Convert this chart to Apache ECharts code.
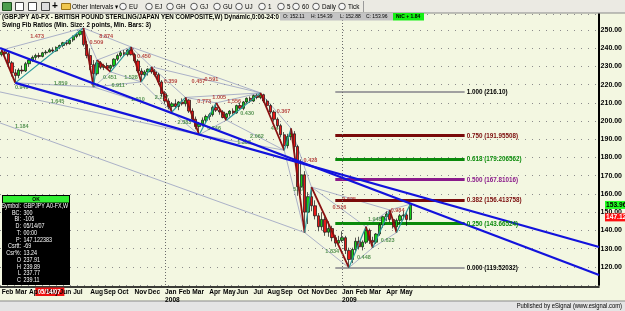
<!DOCTYPE html>
<html>
<head>
<meta charset="utf-8">
<script src="https://cdn.jsdelivr.net/npm/echarts@6/dist/echarts.min.js"></script>
<style>
html, body { margin: 0; padding: 0; background: #f3f7e1; }
#main { width: 625px; height: 311px; }
</style>
</head>
<body>
<div id="main"></div>
<script>
// weekly GBPJPY bars, bar 0 = week of 2007-02-05 : [open, high, low, close]
const ohlc = [
  [236.5, 239.0, 235.5, 238.0], [238.0, 239.5, 236.0, 237.0], [237.0, 238.0, 230.5, 232.0], [232.0, 233.0, 224.5, 226.5],
  [226.5, 228.5, 221.0, 225.0], [225.0, 229.0, 223.5, 228.0], [228.0, 230.5, 226.0, 227.5], [227.5, 232.5, 227.0, 231.5],
  [231.5, 234.0, 230.0, 233.5], [233.5, 236.0, 232.5, 235.0], [235.0, 237.0, 233.5, 236.0], [236.0, 237.5, 234.5, 235.5],
  [235.5, 238.0, 235.0, 237.5], [237.5, 239.0, 236.5, 237.9], [237.91, 239.89, 237.77, 239.11], [239.1, 240.5, 237.5, 238.5],
  [238.5, 241.0, 238.0, 240.5], [240.5, 242.0, 239.5, 241.5], [241.5, 243.5, 240.5, 243.0], [243.0, 244.5, 241.5, 242.5],
  [242.5, 245.0, 242.0, 244.5], [244.5, 247.0, 243.5, 246.5], [246.5, 248.5, 245.5, 247.5], [247.5, 250.0, 246.5, 249.5],
  [249.5, 251.1, 241.0, 242.0], [242.0, 244.0, 234.5, 236.0], [236.0, 240.0, 228.0, 231.0], [231.0, 233.5, 218.7, 226.0],
  [226.0, 233.5, 225.0, 232.0], [232.0, 233.0, 228.5, 229.5], [229.5, 231.5, 228.0, 230.5], [230.5, 232.0, 228.5, 229.0],
  [229.0, 231.0, 227.0, 230.5], [230.5, 234.5, 229.5, 234.0], [234.0, 237.0, 233.0, 236.0], [236.0, 238.5, 235.0, 237.5],
  [237.5, 239.0, 235.5, 236.5], [236.5, 239.5, 235.5, 239.0], [239.0, 240.7, 236.0, 236.5], [236.5, 237.5, 232.0, 233.0],
  [233.0, 234.0, 226.5, 227.5], [227.5, 229.0, 221.5, 225.5], [225.5, 228.0, 223.5, 227.0], [227.0, 229.0, 225.0, 228.5],
  [228.5, 229.8, 226.0, 227.0], [227.0, 228.5, 224.5, 225.5], [225.5, 226.5, 220.0, 221.5], [221.5, 222.5, 213.5, 215.0],
  [215.0, 216.5, 209.5, 211.0], [211.0, 212.5, 206.5, 208.0], [208.0, 210.5, 205.0, 209.5], [209.5, 212.0, 207.0, 208.0],
  [208.0, 211.0, 206.0, 210.5], [210.5, 212.5, 208.5, 209.5], [209.5, 213.0, 208.0, 211.5], [211.5, 212.0, 204.5, 205.5],
  [205.5, 207.0, 199.5, 201.0], [201.0, 202.5, 195.5, 197.0], [197.0, 199.5, 192.5, 198.5], [198.5, 202.0, 197.0, 200.5],
  [200.5, 203.5, 199.0, 202.5], [202.5, 204.5, 200.5, 203.5], [203.5, 208.5, 202.5, 207.5], [207.5, 210.0, 205.0, 206.0],
  [206.0, 207.5, 203.5, 205.0], [205.0, 206.0, 201.5, 202.0], [202.0, 204.5, 200.5, 204.0], [204.0, 206.0, 202.5, 205.5],
  [205.5, 207.0, 203.5, 204.5], [204.5, 209.0, 204.0, 208.5], [208.5, 210.0, 206.5, 207.0], [207.0, 211.0, 206.0, 210.5],
  [210.5, 213.0, 209.5, 212.5], [212.5, 213.5, 210.0, 211.0], [211.0, 214.5, 210.5, 214.0], [214.0, 215.0, 212.0, 213.0],
  [213.0, 215.5, 212.0, 214.5], [214.5, 215.0, 210.0, 211.0], [211.0, 212.0, 207.5, 208.5], [208.5, 209.5, 204.0, 205.0],
  [205.0, 206.0, 200.0, 201.0], [201.0, 202.0, 196.5, 197.5], [197.5, 198.5, 191.0, 192.5], [192.5, 194.0, 184.0, 186.5],
  [186.5, 193.0, 185.0, 191.5], [191.5, 196.0, 189.5, 193.0], [193.0, 194.5, 183.0, 186.0], [186.0, 187.0, 159.0, 164.0],
  [164.0, 179.0, 160.0, 170.5], [170.5, 172.5, 138.8, 150.0], [150.0, 161.0, 143.5, 158.5], [158.5, 163.8, 150.5, 153.5],
  [153.5, 156.5, 146.0, 148.0], [148.0, 149.5, 139.5, 142.0], [142.0, 150.0, 140.0, 146.0], [146.0, 147.5, 137.0, 139.0],
  [139.0, 145.0, 136.5, 141.0], [141.0, 142.5, 134.0, 136.0], [136.0, 137.5, 131.0, 133.0], [133.0, 137.0, 131.5, 134.5],
  [134.5, 139.5, 133.5, 136.0], [136.0, 137.0, 127.0, 129.0], [129.0, 130.5, 119.5, 124.0], [124.0, 130.5, 122.0, 129.5],
  [129.5, 136.0, 128.0, 134.0], [134.0, 136.5, 129.5, 131.0], [131.0, 134.5, 129.0, 133.5], [133.5, 142.0, 132.5, 140.0],
  [140.0, 141.0, 132.5, 134.5], [134.5, 136.5, 130.5, 133.5], [133.5, 138.5, 132.5, 138.0], [138.0, 144.0, 137.0, 143.0],
  [143.0, 148.0, 141.5, 147.5], [147.5, 150.5, 145.0, 149.0], [149.0, 151.2, 144.5, 146.0], [146.0, 147.0, 141.0, 142.0],
  [142.0, 146.5, 138.8, 145.5], [145.5, 149.0, 143.5, 148.0], [148.0, 150.5, 146.0, 148.5], [148.5, 149.5, 142.5, 146.0],
  [146.0, 154.4, 145.5, 153.96]
];

// first week of each month (week index, label)
const monthTicks = [
  [0, 'Feb'], [4, 'Mar'], [8, 'Apr'], [13, 'May'], [17, 'Jun'], [21, 'Jul'], [26, 'Aug'], [30, 'Sep'], [34, 'Oct'],
  [39, 'Nov'], [43, 'Dec'], [48, 'Jan\n2008'], [52, 'Feb'], [56, 'Mar'], [61, 'Apr'], [65, 'May'], [69, 'Jun'],
  [74, 'Jul'], [78, 'Aug'], [82, 'Sep'], [87, 'Oct'], [91, 'Nov'], [95, 'Dec'], [100, 'Jan\n2009'], [104, 'Feb'],
  [108, 'Mar'], [113, 'Apr'], [117, 'May']
];
const yearStarts = [48, 100];
const totalWeeks = 176;

// swing highs / lows found by the study : [week, price]
const swings = [
  [0, 239.0], [4, 221.0], [24, 251.1], [27, 218.7], [28, 233.5], [32, 227.0], [38, 240.7], [41, 221.5],
  [44, 229.8], [50, 205.0], [54, 213.0], [58, 192.5], [63, 210.0], [66, 200.5], [76, 215.5], [83, 184.0],
  [85, 196.0], [89, 138.8], [91, 163.8], [102, 119.5], [107, 142.0], [109, 130.5], [114, 151.2], [116, 138.8],
  [120, 154.4]
];
// thin connector lines between swings (indices into swings)
const fanPairs = [
  [0, 2], [1, 3], [2, 4], [3, 5], [4, 6], [5, 7], [6, 8], [7, 9], [8, 10], [9, 11], [10, 12], [11, 13],
  [12, 14], [13, 15], [14, 16], [15, 17], [16, 18], [17, 19], [18, 20], [19, 21], [20, 22], [21, 23], [22, 24],
  [2, 6], [3, 7], [6, 14], [8, 14], [10, 14], [11, 15], [18, 22], [3, 9]
];
// connectors that start from swings left of the chart
const offChartFans = [
  [[-0.5, 216.0], [58, 192.5]],
  [[-0.5, 199.0], [89, 138.8]]
];
// ratio texts: [text, week, price, side]  side r = upper (red), g = lower (green)
const ratioLabels = [
  ['1.473', 10.4, 246.7, 'r'], ['8.874', 30.7, 246.2, 'r'], ['0.509', 27.8, 242.9, 'r'], ['0.450', 41.8, 235.7, 'r'],
  ['0.949', 5.9, 218.7, 'g'], ['1.859', 17.3, 220.4, 'g'], ['0.451', 31.8, 223.7, 'g'], ['0.911', 34.2, 219.8, 'g'],
  ['1.528', 38.0, 224.2, 'g'], ['1.645', 16.4, 210.5, 'g'], ['1.910', 40.0, 211.6, 'g'], ['1.184', 5.9, 196.8, 'g'],
  ['0.359', 49.6, 221.5, 'r'], ['0.457', 57.8, 222.0, 'r'], ['0.591', 61.6, 222.6, 'r'], ['2.217', 47.0, 212.7, 'g'],
  ['0.773', 59.5, 210.5, 'r'], ['1.005', 63.9, 213.2, 'r'], ['1.556', 68.3, 210.5, 'r'], ['2.383', 53.7, 199.0, 'g'],
  ['0.846', 62.4, 196.2, 'g'], ['0.430', 72.1, 204.4, 'g'], ['0.367', 82.8, 205.0, 'r'], ['4.4', 80.2, 196.2, 'g'],
  ['2.062', 75.0, 191.3, 'g'], ['1.363', 71.2, 188.5, 'g'], ['0.428', 90.7, 178.6, 'r'], ['5.07', 87.2, 162.2, 'g'],
  ['0.516', 99.2, 152.3, 'r'], ['0.625', 102.1, 156.7, 'r'], ['1.834', 97.1, 128.2, 'g'], ['0.448', 106.4, 124.9, 'g'],
  ['1.948', 109.6, 146.2, 'g'], ['0.984', 116.3, 150.7, 'r'], ['0.623', 113.4, 134.7, 'g']
];
// hand drawn trend lines [start, end] in [week, price]
const trendLines = [
  [[-0.5, 240.1], [175.5, 115.5]],
  [[4, 221.0], [175.5, 130.9]]
];
// fib retracement of the 216.10 -> 119.52 swing
const fibRatios = ['1.000', '0.750', '0.618', '0.500', '0.382', '0.250', '0.000'];
const fibPrices = [216.10, 191.95508, 179.206562, 167.81016, 156.413758, 143.66524, 119.52032];
const fibPriceText = ['216.10', '191.95508', '179.206562', '167.81016', '156.413758', '143.66524', '119.52032'];
const fibSpan = [98, 136];

const lastPrice = 153.96;
const cursorPrice = 147.12;
const cursorWeek = 14;

const FONT = "'Liberation Sans', Arial, sans-serif";
const SX = 0.83; // squeeze to look like the narrow eSignal font
const fibColors = ['#a0a0a0', '#7a0a0a', '#0a8a0a', '#8a1a8a', '#7a0a0a', '#0a8a0a', '#a0a0a0'];
const fibTextColors = ['#000', '#7a0a0a', '#0a8a0a', '#8a1a8a', '#7a0a0a', '#0a8a0a', '#000'];
const fibWidths = [2, 3, 3, 3, 3, 3, 2];

const chart = echarts.init(document.getElementById('main'));

const legs = [];
for (let k = 1; k < swings.length; k++) {
  const a = swings[k - 1], b = swings[k];
  const up = b[1] > a[1];
  legs.push({ coords: [a, b], lineStyle: { color: up ? '#2a9a9a' : '#8a1010', width: up ? 1.2 : 1.8, opacity: 1 } });
}
const fans = fanPairs.map(p => ({ coords: [swings[p[0]], swings[p[1]]] }))
  .concat(offChartFans.map(c => ({ coords: c })));

chart.setOption({
  animation: false,
  backgroundColor: '#f3f7e1',
  grid: { left: 0, right: 21, top: 14, bottom: 26, show: true, backgroundColor: '#f3f7e1', borderWidth: 0 },
  xAxis: {
    type: 'value', min: -0.5, max: totalWeeks - 0.5, offset: 2,
    axisLine: { show: true, onZero: false, lineStyle: { color: '#000', width: 1.5 } },
    axisTick: { show: false },
    splitLine: { show: false },
    axisLabel: { show: false }
  },
  yAxis: {
    type: 'value', position: 'right', min: 110, max: 258.8, interval: 10,
    axisLine: { show: true, onZero: false, lineStyle: { color: '#000', width: 2 } },
    axisTick: { show: false },
    splitLine: { show: true, lineStyle: { color: '#8c8c8c', type: [1, 6], width: 1 } },
    axisLabel: {
      formatter: v => (v % 10 === 0 && v > 110 && v <= 250) ? v.toFixed(2) : '',
      margin: 1.5, fontSize: 7, fontWeight: 'bold', fontFamily: FONT, color: '#000'
    }
  },
  series: [
    {
      type: 'lines', coordinateSystem: 'cartesian2d', silent: true, z: 1,
      lineStyle: { color: '#8e95bd', width: 0.8, opacity: 0.9 },
      data: fans
    },
    {
      type: 'scatter', silent: true, z: 1, symbolSize: 1,
      itemStyle: { color: 'rgba(0,0,0,0)' },
      label: { show: true, position: 'inside', formatter: '{b}', fontSize: 5.5, fontWeight: 'bold', fontFamily: FONT },
      data: ratioLabels.map(r => ({
        name: r[0], value: [r[1], r[2]],
        label: { color: r[3] === 'r' ? '#a81c1c' : '#2f7a2f' }
      }))
    },
    {
      type: 'lines', coordinateSystem: 'cartesian2d', silent: true, z: 2,
      data: fibPrices.map((p, k) => ({
        coords: [[fibSpan[0], p], [fibSpan[1], p]],
        lineStyle: { color: fibColors[k], width: fibWidths[k], opacity: 1 }
      }))
    },
    {
      type: 'candlestick', z: 3,
      data: ohlc.map((r, i) => [i, r[0], r[3], r[2], r[1]]),
      barWidth: 2.8,
      itemStyle: { color: '#14cc14', color0: '#e81818', borderColor: '#111', borderColor0: '#111', borderWidth: 0.7 },
      markLine: {
        silent: true, symbol: 'none', label: { show: false },
        lineStyle: { color: '#6a6a6a', type: [1, 2], width: 1 },
        data: yearStarts.map(w => ({ xAxis: w }))
      }
    },
    {
      type: 'lines', coordinateSystem: 'cartesian2d', silent: true, z: 4,
      data: legs
    },
    {
      type: 'lines', coordinateSystem: 'cartesian2d', silent: true, z: 5,
      lineStyle: { color: '#1212dc', width: 2.2, opacity: 1 },
      data: trendLines.map(c => ({ coords: c }))
    }
  ]
});

// ---- chrome around the plot (toolbar, titles, tags) ----
function txt(x, y, s, font, fill, align, sx, valign) {
  return { type: 'text', x: x, y: y, z: 100, silent: true, scaleX: sx || SX,
    style: { text: s, font: font, fill: fill || '#000', align: align || 'left', verticalAlign: valign || 'middle', lineHeight: 8 } };
}
function box(x, y, w, h, fill, stroke) {
  return { type: 'rect', z: 99, silent: true, shape: { x: x, y: y, width: w, height: h },
    style: { fill: fill, stroke: stroke || null, lineWidth: stroke ? 1 : 0 } };
}
function ring(cx, cy) {
  return { type: 'circle', z: 100, silent: true, shape: { cx: cx, cy: cy, r: 3.3 },
    style: { fill: '#f6f6f6', stroke: '#333', lineWidth: 0.8 } };
}
const px = (w, p) => chart.convertToPixel({ gridIndex: 0 }, [w, p]);

const g = [];
// toolbar
g.push(box(0, 0, 625, 13, '#ebeae3'));
g.push(box(0, 12.5, 625, 1, '#8a8a8a'));
g.push(box(2.5, 2.5, 9, 8, '#4e9e4e', '#1e4e1e'));
g.push(box(15.5, 2.5, 8, 8, '#ffffff', '#444'));
g.push(box(28.5, 2.5, 8, 8, '#ffffff', '#444'));
g.push(box(41.5, 2.5, 8, 8, '#dddddd', '#444'));
g.push(txt(52, 6.5, '+', 'bold 10px ' + FONT, '#000', 'left', 1));
g.push(box(61.5, 3.5, 9, 6, '#f0c850', '#9a7418'));
g.push(txt(72, 6.8, 'Other Intervals \u25BE', '7px ' + FONT, '#000', 'left', 0.9));
const tools = [[123, 'EU'], [149, 'EJ'], [170, 'GH'], [194, 'GJ'], [217, 'GU'], [239, 'UJ'],
  [262, '1'], [281, '5'], [296, '60'], [316, 'Daily'], [342, 'Tick']];
tools.forEach(t => {
  g.push(ring(t[0], 6.5));
  g.push(txt(t[0] + 6, 6.8, t[1], '7px ' + FONT, '#000', 'left', 0.9));
});
g.push(box(363, 1, 1, 11, '#9a9a9a'));

// title rows
g.push(txt(2, 17.2, '(GBPJPY A0-FX - BRITISH POUND STERLING/JAPAN YEN COMPOSITE,W) Dynamic,0:00-24:0', 'bold 7.5px ' + FONT));
g.push(txt(2, 24.5, 'Swing Fib Ratios (Min. Size: 2 points, Min. Bars: 3)', 'bold 7.5px ' + FONT));
g.push(box(280, 13, 113, 7.5, '#c4c4c4'));
g.push(txt(283, 16.8, 'O: 152.11', '6px ' + FONT));
g.push(txt(311, 16.8, 'H: 154.39', '6px ' + FONT));
g.push(txt(340, 16.8, 'L: 152.88', '6px ' + FONT));
g.push(txt(366, 16.8, 'C: 153.96', '6px ' + FONT));
g.push(box(393, 13, 31, 7.5, '#14f014'));
g.push(txt(396, 16.8, 'NtC + 1.84', 'bold 6px ' + FONT));

// month labels under the axis
monthTicks.forEach(t => {
  const p = px(t[0], 110);
  g.push(txt(p[0], 287.5, t[1], 'bold 8px ' + FONT, '#000', 'left', 0.82, 'top'));
});

// fib level texts at the right end of each level
fibPrices.forEach((p, k) => {
  const q = px(fibSpan[1], p);
  g.push(txt(q[0] + 2, q[1], fibRatios[k] + ' (' + fibPriceText[k] + ')', 'bold 7px ' + FONT, fibTextColors[k], 'left', 0.9));
});

// cursor info box
const cw = ohlc[cursorWeek];
const infoRows = [['Symbol:', 'GBPJPY A0-FX,W'], ['BC:', '300'], ['BI:', '-106'], ['D:', '05/14/07'], ['T:', '00:00'],
  ['P:', '147.122383'], ['Csrtt:', '-69'], ['Csr%:', '13.24'],
  ['O', cw[0].toFixed(2)], ['H', cw[1].toFixed(2)], ['L', cw[2].toFixed(2)], ['C', cw[3].toFixed(2)]];
g.push(box(2, 195, 68, 90, '#000'));
g.push(box(3, 196, 66, 6.5, '#33ee33'));
g.push(txt(36, 199.4, 'OK', 'bold 6px ' + FONT, '#000', 'center'));
infoRows.forEach((r, k) => {
  const y = 206 + k * 6.75;
  g.push(txt(21, y, r[0], '6.5px ' + FONT, '#fff', 'right'));
  g.push(txt(23.5, y, r[1], '6.5px ' + FONT, '#fff'));
});

// status bar
g.push(box(0, 301, 625, 10, '#e4e4e4'));
g.push(box(0, 300.5, 625, 1, '#8a8a8a'));
g.push(txt(622, 306, 'Published by eSignal (www.esignal.com)', '6.5px ' + FONT, '#000', 'right', 0.9));

// tags tied to the axes
const yLast = px(0, lastPrice)[1];
const yCur = px(0, cursorPrice)[1];
const xCur = px(cursorWeek, 200)[0];
g.push(box(605, yLast - 4, 20, 8, '#22ff22'));
g.push(txt(606, yLast, lastPrice.toFixed(2), 'bold 7px ' + FONT, '#000', 'left', 0.95));
g.push(box(605, yCur - 4, 20, 8, '#ff1010'));
g.push(txt(606, yCur, cursorPrice.toFixed(2), 'bold 7px ' + FONT, '#fff', 'left', 0.95));
g.push(box(xCur - 14, 287.5, 29, 8.5, '#ee1010'));
g.push(txt(xCur - 11.5, 291.8, '05/14/07', 'bold 7px ' + FONT, '#fff', 'left'));

chart.setOption({ graphic: g });
</script>
</body>
</html>
